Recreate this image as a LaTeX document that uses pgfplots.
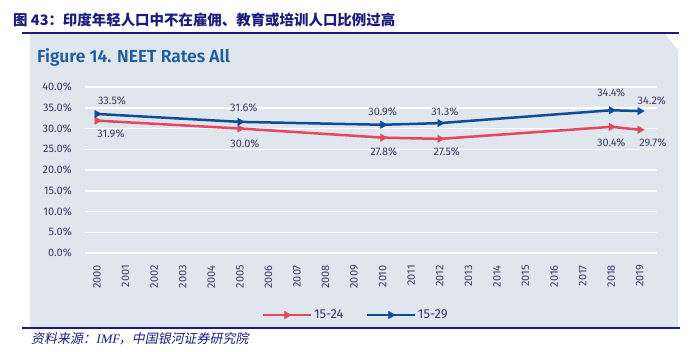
\documentclass[border=0pt]{standalone}
\usepackage{pgfplots}
\pgfplotsset{compat=1.18}
\usepackage{fontspec}
\setmainfont{Fira Sans}
\newfontfamily\cjk{Noto Sans CJK SC}
\newfontfamily\cjkit[FakeSlant=0.2]{Noto Sans CJK SC}
\newfontfamily\serifit[FakeSlant=0.2]{Liberation Serif}
\newfontfamily\semib{Fira Sans SemiBold}
\definecolor{navy}{HTML}{1C1C7C}
\definecolor{boxbg}{HTML}{DFE6ED}
\definecolor{figblue}{HTML}{1F5E9E}
\definecolor{cred}{HTML}{E8455F}
\definecolor{cblue}{HTML}{0D4C97}
\definecolor{labc}{HTML}{3D3D66}
\pgfplotstableread{
x y dx dy
2000 31.9 14 -13
2005 30.0 5 -15
2010 27.8 1 -14
2012 27.5 7 -13
2018 30.4 0 -16
2019 29.7 13 -13
}\young
\pgfplotstableread{
x y dx dy
2000 33.5 15 13
2005 31.6 4 14
2010 30.9 0 13
2012 31.3 5 11
2018 34.4 0 17
2019 34.2 12 10
}\older
\begin{document}
\begin{tikzpicture}[x=1bp,y=1bp]
\path (0,0) rectangle (698,351);
\fill[boxbg] (30,317) -- (665,317) -- (678,301) -- (678,24) -- (30,24) -- cycle;
\draw[navy,line width=1.5bp] (22,318) -- (679,318);
\draw[navy,line width=1.5bp] (22,23) -- (680,23);
\node[anchor=west,inner sep=0pt,text=navy,font=\cjk\bfseries\fontsize{14.5}{16}\selectfont] at (13,331.5) {图 43：印度年轻人口中不在雇佣、教育或培训人口比例过高};
\node[anchor=west,inner sep=0pt,text=figblue,font=\semib\fontsize{17.5}{19}\selectfont] at (37,294) {Figure 14. NEET Rates All};
\node[anchor=west,inner sep=0pt,text=navy,font=\fontsize{13}{15}\selectfont] at (31,12) {{\cjkit 资料来源：}{\serifit IMF}{\cjkit ，中国银河证券研究院}};
\begin{axis}[
  at={(85bp,98bp)}, anchor=south west, scale only axis,
  width=572bp, height=166bp,
  xmin=1999.58, xmax=2019.6, ymin=0, ymax=40,
  axis line style={draw=none},
  tick style={draw=none}, major tick length=0pt,
  xtick={2000,...,2019}, ytick={0,5,...,40},
  /pgf/number format/assume math mode=true,
  /pgf/number format/1000 sep={},
  xticklabel style={rotate=90,anchor=east,inner sep=0pt,text=labc,font=\fontsize{11}{12}\selectfont},
  xticklabel shift=12bp,
  yticklabel={\pgfmathprintnumber[fixed,fixed zerofill,precision=1]{\tick}\%},
  yticklabel style={anchor=east,inner sep=0pt,text=labc,font=\fontsize{11}{12}\selectfont},
  yticklabel shift=13bp,
  ymajorgrids, major grid style={white,line width=1.5bp},
  legend columns=2,
  legend style={draw=none,fill=none,at={(0.473,-0.3735)},anchor=center,
    font=\fontsize{13}{14}\selectfont,text=labc,
    /tikz/every even column/.append style={column sep=20bp}},
  legend image code/.code={\draw[mark repeat=2,mark phase=2,#1] plot coordinates {(0bp,0bp) (24bp,0bp) (48bp,0bp)};},
  every node near coord/.append style={anchor=center,xshift=\dx bp,yshift=\dy bp,text=labc,font=\fontsize{11}{12}\selectfont},
  nodes near coords={\pgfmathprintnumber[fixed,fixed zerofill,precision=1]{\pgfplotspointmeta}\%},
  visualization depends on={\thisrow{dx}\as\dx},
  visualization depends on={\thisrow{dy}\as\dy},
]
\addplot[color=cred,line width=2.5bp,mark=triangle*,mark size=4.2bp,mark options={solid,rotate=-90,line width=0.5bp}] table[x=x,y=y] {\young};
\addlegendentry{15-24}
\addplot[color=cblue,line width=2.5bp,mark=triangle*,mark size=4.2bp,mark options={solid,rotate=-90,line width=0.5bp}] table[x=x,y=y] {\older};
\addlegendentry{15-29}
\end{axis}
\end{tikzpicture}
\end{document}
